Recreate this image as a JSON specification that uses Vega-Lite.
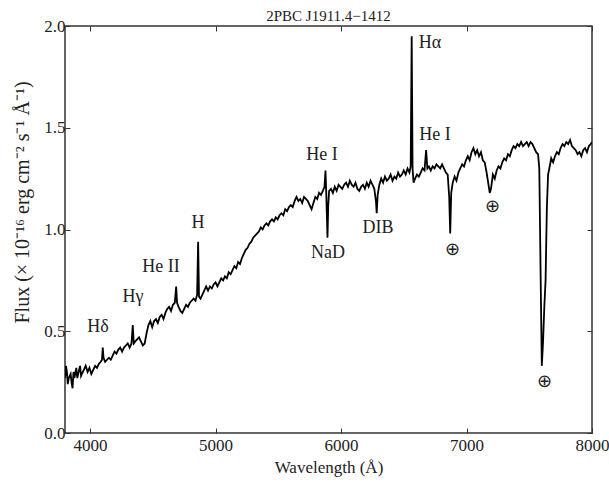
{
  "$schema": "https://vega.github.io/schema/vega-lite/v6.json",
  "autosize": "none",
  "width": 527,
  "height": 407,
  "padding": {"left": 65, "top": 26, "right": 17, "bottom": 53},
  "background": "white",
  "title": {
    "text": "2PBC J1911.4−1412",
    "font": "Liberation Serif",
    "fontSize": 15,
    "fontWeight": "normal",
    "color": "#222",
    "offset": 0,
    "dy": 7
  },
  "config": {
    "view": {"stroke": "#333", "strokeWidth": 1.5},
    "axis": {
      "grid": false,
      "domain": false,
      "tickColor": "#333",
      "tickSize": -5,
      "tickWidth": 1,
      "labelFont": "Liberation Serif",
      "labelFontSize": 17,
      "labelColor": "#222",
      "titleFont": "Liberation Serif",
      "titleFontSize": 17,
      "titleFontWeight": "normal",
      "titleColor": "#222"
    }
  },
  "datasets": {
    "spectrum": [
      {"w":3800,"f":0.27},{"w":3808,"f":0.33},{"w":3815,"f":0.30},{"w":3822,"f":0.24},{"w":3830,"f":0.27},{"w":3845,"f":0.29},{"w":3852,"f":0.25},{"w":3860,"f":0.22},
      {"w":3868,"f":0.30},{"w":3875,"f":0.27},{"w":3890,"f":0.32},{"w":3898,"f":0.27},{"w":3905,"f":0.29},{"w":3920,"f":0.33},{"w":3928,"f":0.28},{"w":3935,"f":0.29},
      {"w":3950,"f":0.31},{"w":3965,"f":0.33},{"w":3980,"f":0.30},{"w":3995,"f":0.32},{"w":4010,"f":0.29},
      {"w":4025,"f":0.31},{"w":4040,"f":0.33},{"w":4055,"f":0.32},{"w":4070,"f":0.34},{"w":4085,"f":0.35},
      {"w":4095,"f":0.36},{"w":4101,"f":0.42},{"w":4107,"f":0.37},{"w":4120,"f":0.35},{"w":4135,"f":0.36},
      {"w":4150,"f":0.37},{"w":4165,"f":0.36},{"w":4180,"f":0.38},{"w":4195,"f":0.40},{"w":4210,"f":0.39},
      {"w":4225,"f":0.41},{"w":4240,"f":0.42},{"w":4255,"f":0.40},{"w":4270,"f":0.42},{"w":4285,"f":0.43},
      {"w":4300,"f":0.44},{"w":4315,"f":0.42},{"w":4330,"f":0.44},{"w":4340,"f":0.53},{"w":4348,"f":0.44},
      {"w":4360,"f":0.45},{"w":4375,"f":0.46},{"w":4390,"f":0.47},{"w":4405,"f":0.45},{"w":4420,"f":0.43},
      {"w":4435,"f":0.44},{"w":4450,"f":0.49},{"w":4465,"f":0.53},{"w":4480,"f":0.55},{"w":4495,"f":0.52},
      {"w":4510,"f":0.55},{"w":4525,"f":0.56},{"w":4540,"f":0.54},{"w":4555,"f":0.57},{"w":4570,"f":0.58},
      {"w":4585,"f":0.56},{"w":4600,"f":0.59},{"w":4615,"f":0.61},{"w":4630,"f":0.62},{"w":4645,"f":0.60},
      {"w":4660,"f":0.63},{"w":4675,"f":0.64},{"w":4686,"f":0.72},{"w":4693,"f":0.64},{"w":4705,"f":0.62},
      {"w":4720,"f":0.60},{"w":4735,"f":0.59},{"w":4750,"f":0.61},{"w":4765,"f":0.63},{"w":4780,"f":0.62},
      {"w":4795,"f":0.64},{"w":4810,"f":0.65},{"w":4825,"f":0.66},{"w":4840,"f":0.65},{"w":4853,"f":0.68},
      {"w":4861,"f":0.94},{"w":4868,"f":0.67},{"w":4880,"f":0.66},{"w":4895,"f":0.68},{"w":4910,"f":0.70},
      {"w":4925,"f":0.72},{"w":4940,"f":0.70},{"w":4955,"f":0.72},{"w":4970,"f":0.71},{"w":4985,"f":0.73},
      {"w":5000,"f":0.74},{"w":5015,"f":0.72},{"w":5030,"f":0.74},{"w":5045,"f":0.76},{"w":5060,"f":0.75},
      {"w":5075,"f":0.77},{"w":5090,"f":0.76},{"w":5105,"f":0.79},{"w":5120,"f":0.78},{"w":5135,"f":0.80},
      {"w":5150,"f":0.82},{"w":5165,"f":0.81},{"w":5180,"f":0.84},{"w":5195,"f":0.83},{"w":5210,"f":0.86},
      {"w":5225,"f":0.88},{"w":5240,"f":0.90},{"w":5255,"f":0.91},{"w":5270,"f":0.93},{"w":5285,"f":0.94},
      {"w":5300,"f":0.96},{"w":5315,"f":0.97},{"w":5330,"f":0.98},{"w":5345,"f":0.99},{"w":5360,"f":1.01},
      {"w":5375,"f":1.00},{"w":5390,"f":1.02},{"w":5405,"f":1.03},{"w":5420,"f":1.02},{"w":5435,"f":1.04},
      {"w":5450,"f":1.05},{"w":5465,"f":1.04},{"w":5480,"f":1.06},{"w":5495,"f":1.05},{"w":5510,"f":1.07},
      {"w":5525,"f":1.08},{"w":5540,"f":1.07},{"w":5555,"f":1.10},{"w":5570,"f":1.09},{"w":5585,"f":1.11},
      {"w":5600,"f":1.12},{"w":5615,"f":1.11},{"w":5630,"f":1.14},{"w":5645,"f":1.16},{"w":5660,"f":1.14},
      {"w":5675,"f":1.15},{"w":5690,"f":1.13},{"w":5705,"f":1.16},{"w":5720,"f":1.15},{"w":5735,"f":1.14},
      {"w":5750,"f":1.12},{"w":5765,"f":1.10},{"w":5780,"f":1.13},{"w":5795,"f":1.16},{"w":5810,"f":1.15},
      {"w":5825,"f":1.18},{"w":5840,"f":1.17},{"w":5855,"f":1.19},{"w":5868,"f":1.21},{"w":5876,"f":1.29},
      {"w":5882,"f":1.18},{"w":5892,"f":0.96},{"w":5898,"f":1.12},{"w":5905,"f":1.19},{"w":5920,"f":1.20},
      {"w":5935,"f":1.18},{"w":5950,"f":1.21},{"w":5965,"f":1.19},{"w":5980,"f":1.22},{"w":5995,"f":1.21},
      {"w":6010,"f":1.20},{"w":6025,"f":1.22},{"w":6040,"f":1.23},{"w":6055,"f":1.21},{"w":6070,"f":1.24},
      {"w":6085,"f":1.22},{"w":6100,"f":1.21},{"w":6115,"f":1.23},{"w":6130,"f":1.20},{"w":6145,"f":1.19},
      {"w":6160,"f":1.21},{"w":6175,"f":1.22},{"w":6190,"f":1.20},{"w":6205,"f":1.23},{"w":6220,"f":1.21},
      {"w":6235,"f":1.24},{"w":6250,"f":1.22},{"w":6265,"f":1.20},{"w":6278,"f":1.14},{"w":6284,"f":1.08},
      {"w":6292,"f":1.17},{"w":6305,"f":1.22},{"w":6320,"f":1.25},{"w":6335,"f":1.23},{"w":6350,"f":1.26},
      {"w":6365,"f":1.24},{"w":6380,"f":1.25},{"w":6395,"f":1.27},{"w":6410,"f":1.24},{"w":6425,"f":1.26},
      {"w":6440,"f":1.25},{"w":6455,"f":1.28},{"w":6470,"f":1.26},{"w":6485,"f":1.27},{"w":6500,"f":1.29},
      {"w":6515,"f":1.27},{"w":6530,"f":1.30},{"w":6545,"f":1.28},{"w":6555,"f":1.31},{"w":6563,"f":1.95},
      {"w":6570,"f":1.30},{"w":6578,"f":1.23},{"w":6590,"f":1.25},{"w":6605,"f":1.27},{"w":6620,"f":1.26},
      {"w":6635,"f":1.28},{"w":6650,"f":1.30},{"w":6665,"f":1.29},{"w":6678,"f":1.39},{"w":6688,"f":1.30},
      {"w":6700,"f":1.31},{"w":6715,"f":1.29},{"w":6730,"f":1.31},{"w":6745,"f":1.30},{"w":6760,"f":1.32},
      {"w":6775,"f":1.31},{"w":6790,"f":1.30},{"w":6805,"f":1.32},{"w":6820,"f":1.30},{"w":6835,"f":1.28},
      {"w":6850,"f":1.27},{"w":6862,"f":1.16},{"w":6870,"f":0.98},{"w":6878,"f":1.18},{"w":6890,"f":1.23},
      {"w":6905,"f":1.26},{"w":6920,"f":1.24},{"w":6935,"f":1.28},{"w":6950,"f":1.30},{"w":6965,"f":1.32},
      {"w":6980,"f":1.31},{"w":6995,"f":1.34},{"w":7010,"f":1.36},{"w":7025,"f":1.34},{"w":7040,"f":1.38},
      {"w":7055,"f":1.40},{"w":7070,"f":1.37},{"w":7085,"f":1.39},{"w":7100,"f":1.36},{"w":7115,"f":1.38},
      {"w":7130,"f":1.34},{"w":7145,"f":1.33},{"w":7160,"f":1.28},{"w":7175,"f":1.22},{"w":7185,"f":1.18},
      {"w":7195,"f":1.20},{"w":7210,"f":1.27},{"w":7225,"f":1.25},{"w":7240,"f":1.29},{"w":7255,"f":1.31},
      {"w":7270,"f":1.30},{"w":7285,"f":1.33},{"w":7300,"f":1.35},{"w":7315,"f":1.34},{"w":7330,"f":1.37},
      {"w":7345,"f":1.36},{"w":7360,"f":1.39},{"w":7375,"f":1.41},{"w":7390,"f":1.40},{"w":7405,"f":1.42},
      {"w":7420,"f":1.41},{"w":7435,"f":1.43},{"w":7450,"f":1.41},{"w":7465,"f":1.42},{"w":7480,"f":1.43},
      {"w":7495,"f":1.41},{"w":7510,"f":1.43},{"w":7525,"f":1.42},{"w":7540,"f":1.40},{"w":7555,"f":1.38},
      {"w":7570,"f":1.37},{"w":7580,"f":1.30},{"w":7590,"f":0.80},{"w":7600,"f":0.33},{"w":7610,"f":0.45},
      {"w":7620,"f":0.62},{"w":7630,"f":0.75},{"w":7640,"f":1.10},{"w":7650,"f":1.27},{"w":7660,"f":1.30},
      {"w":7675,"f":1.35},{"w":7690,"f":1.33},{"w":7705,"f":1.36},{"w":7720,"f":1.38},{"w":7735,"f":1.37},
      {"w":7750,"f":1.40},{"w":7765,"f":1.42},{"w":7780,"f":1.41},{"w":7795,"f":1.43},{"w":7810,"f":1.42},
      {"w":7825,"f":1.44},{"w":7840,"f":1.41},{"w":7855,"f":1.40},{"w":7870,"f":1.39},{"w":7885,"f":1.37},
      {"w":7900,"f":1.38},{"w":7915,"f":1.36},{"w":7930,"f":1.39},{"w":7945,"f":1.40},{"w":7960,"f":1.38},
      {"w":7975,"f":1.41},{"w":7990,"f":1.42},{"w":8000,"f":1.43}
    ],
    "features": [
      {"label":"Hδ","w":4063,"f":0.52},
      {"label":"Hγ","w":4342,"f":0.67},
      {"label":"He II","w":4565,"f":0.815},
      {"label":"H","w":4860,"f":1.03},
      {"label":"He I","w":5848,"f":1.366},
      {"label":"NaD","w":5896,"f":0.885},
      {"label":"DIB","w":6294,"f":1.007},
      {"label":"Hα","w":6708,"f":1.916},
      {"label":"He I","w":6748,"f":1.464},
      {"label":"⊕","w":6892,"f":0.899},
      {"label":"⊕","w":7210,"f":1.11},
      {"label":"⊕","w":7625,"f":0.25}
    ]
  },
  "layer": [
    {
      "data": {"name": "spectrum"},
      "mark": {"type": "line", "color": "black", "strokeWidth": 1.8, "clip": true},
      "encoding": {
        "x": {
          "field": "w", "type": "quantitative",
          "scale": {"domain": [3800, 8000], "nice": false, "zero": false},
          "axis": {"values": [4000, 5000, 6000, 7000, 8000], "format": "d", "labelPadding": 9, "title": "Wavelength (Å)", "titlePadding": 6, "labelFlush": false}
        },
        "y": {
          "field": "f", "type": "quantitative",
          "scale": {"domain": [0, 2], "nice": false},
          "axis": {"values": [0, 0.5, 1, 1.5, 2], "format": ".1f", "labelPadding": 5, "title": "Flux (× 10⁻¹⁶ erg cm⁻² s⁻¹ Å⁻¹)", "titleFontSize": 20, "titlePadding": 11, "titleY": 176, "labelFlush": false}
        }
      }
    },
    {
      "data": {"name": "features"},
      "mark": {"type": "text", "font": "Liberation Serif", "fontSize": 18, "color": "#222", "align": "center", "baseline": "middle"},
      "encoding": {
        "x": {
          "field": "w", "type": "quantitative",
          "axis": {"orient": "top", "values": [4000, 5000, 6000, 7000, 8000], "labels": false, "title": null}
        },
        "y": {
          "field": "f", "type": "quantitative",
          "axis": {"orient": "right", "values": [0, 0.5, 1, 1.5, 2], "labels": false, "title": null}
        },
        "text": {"field": "label"}
      }
    }
  ],
  "resolve": {"axis": {"x": "independent", "y": "independent"}}
}
